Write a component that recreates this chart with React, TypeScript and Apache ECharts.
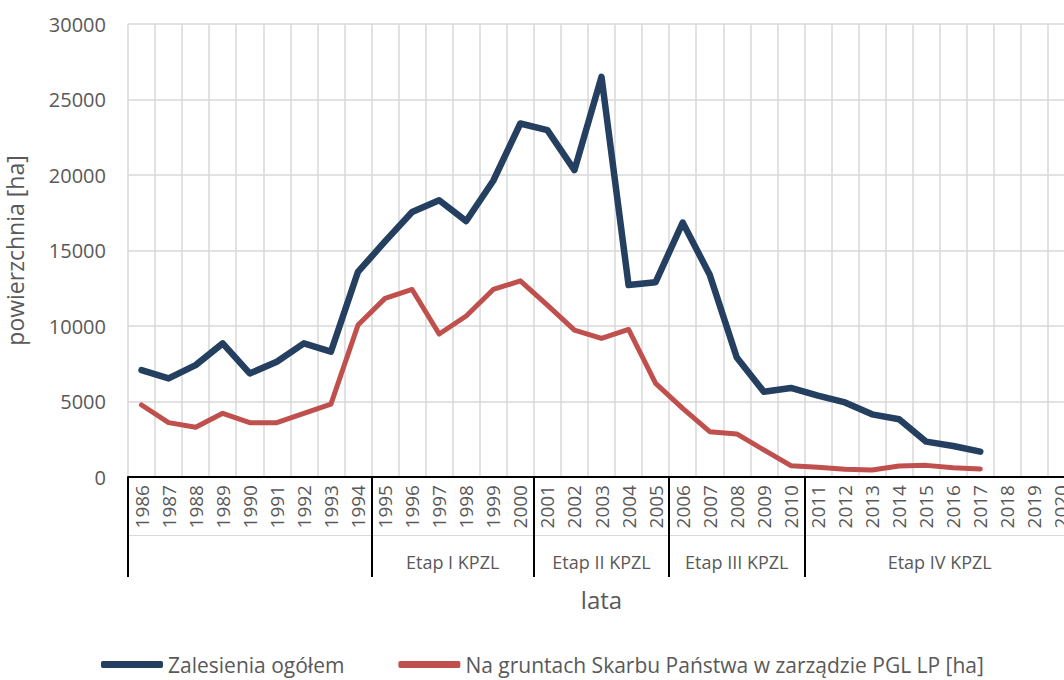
import React, { useEffect, useRef } from "react";
import * as echarts from "echarts";

const years = [
  "1986", "1987", "1988", "1989", "1990", "1991", "1992", "1993", "1994",
  "1995", "1996", "1997", "1998", "1999", "2000",
  "2001", "2002", "2003", "2004", "2005",
  "2006", "2007", "2008", "2009", "2010",
  "2011", "2012", "2013", "2014", "2015", "2016", "2017", "2018", "2019", "2020",
];

const zalesieniaOgolem = [
  7080, 6530, 7410, 8850, 6860, 7630, 8850, 8300, 13590,
  15600, 17550, 18330, 16950, 19620, 23410,
  22970, 20320, 26500, 12710, 12900,
  16850, 13400, 7920, 5650, 5900,
  5390, 4940, 4150, 3820, 2340, 2050, 1680, null, null, null,
];

const skarbPanstwa = [
  4770, 3600, 3290, 4220, 3600, 3600, 4220, 4830, 10060,
  11830, 12420, 9470, 10660, 12420, 12990,
  11390, 9730, 9180, 9770, 6200,
  4550, 3000, 2850, 1790, 750,
  640, 510, 460, 730, 770, 620, 530, null, null, null,
];

// group boundaries in category units and group labels
const groupBoundaries = [0, 9, 15, 20, 25, 35];
const groupNames = ["", "Etap I KPZL", "Etap II KPZL", "Etap III KPZL", "Etap IV KPZL"];

const seriesNames = ["Zalesienia ogółem", "Na gruntach Skarbu Państwa w zarządzie PGL LP [ha]"];

const FONT = "'Open Sans', sans-serif";
const TEXT = "#595959";

export default function App() {
  const ref = useRef<HTMLDivElement>(null);
  useEffect(() => {
    if (!ref.current) return;
    const chart = echarts.init(ref.current, undefined, { renderer: "svg" });
    const centers: number[] = [];
    const labels: Record<string, string> = {};
    for (let i = 0; i < groupNames.length; i++) {
      const c = (groupBoundaries[i] + groupBoundaries[i + 1]) / 2;
      centers.push(c);
      labels[String(c)] = groupNames[i];
    }
    chart.setOption({
      animation: false,
      textStyle: { fontFamily: FONT },
      grid: {
        left: 128,
        top: 24,
        right: -11,
        bottom: 203,
        containLabel: false,
        outerBoundsMode: "none",
      },
      xAxis: [
        {
          type: "category",
          data: years,
          boundaryGap: true,
          axisLine: { show: true, lineStyle: { color: "#000", width: 2 } },
          axisTick: { show: false },
          splitLine: { show: true, interval: 0, lineStyle: { color: "#d9d9d9", width: 1.5 } },
          axisLabel: {
            rotate: 90,
            interval: 0,
            margin: 8,
            fontSize: 19,
            color: TEXT,
            fontFamily: FONT,
          },
          name: "lata",
          nameLocation: "middle",
          nameGap: 110,
          nameTextStyle: { fontSize: 24, color: TEXT, fontFamily: FONT },
          z: 5,
        },
        {
          type: "value",
          min: 0,
          max: 35,
          position: "bottom",
          axisLine: { show: false },
          splitLine: { show: false },
          axisTick: {
            show: true,
            length: 100,
            customValues: groupBoundaries,
            lineStyle: { color: "#000", width: 2 },
          },
          axisLabel: {
            show: true,
            customValues: centers,
            margin: 76,
            fontSize: 18,
            color: TEXT,
            fontFamily: FONT,
            formatter: (v: number) => labels[String(v)] ?? "",
          },
        },
        {
          type: "category",
          data: years,
          position: "bottom",
          offset: 58,
          axisLine: { show: true, lineStyle: { color: "#d9d9d9", width: 1 } },
          axisTick: { show: false },
          axisLabel: { show: false },
          splitLine: { show: false },
        },
      ],
      yAxis: {
        type: "value",
        min: 0,
        max: 30000,
        interval: 5000,
        axisLine: { show: false },
        axisTick: { show: false },
        splitLine: { show: true, lineStyle: { color: "#d9d9d9", width: 1.5 } },
        axisLabel: {
          fontSize: 20,
          color: TEXT,
          margin: 22,
          fontFamily: FONT,
          formatter: (v: number) => String(v),
        },
        name: "powierzchnia [ha]",
        nameLocation: "middle",
        nameGap: 102,
        nameTextStyle: { fontSize: 23, color: TEXT, fontFamily: FONT },
      },
      legend: {
        bottom: 0,
        left: 96,
        icon: "roundRect",
        itemWidth: 62,
        itemHeight: 7,
        itemGap: 54,
        textStyle: { fontSize: 21, color: TEXT, fontFamily: FONT },
        data: seriesNames,
      },
      series: [
        {
          name: seriesNames[0],
          type: "line",
          xAxisIndex: 0,
          data: zalesieniaOgolem,
          showSymbol: false,
          symbol: "none",
          itemStyle: { color: "#243f60" },
          lineStyle: { color: "#243f60", width: 6.5, cap: "round", join: "round" },
          z: 10,
        },
        {
          name: seriesNames[1],
          type: "line",
          xAxisIndex: 0,
          data: skarbPanstwa,
          showSymbol: false,
          symbol: "none",
          itemStyle: { color: "#c0504d" },
          lineStyle: { color: "#c0504d", width: 5, cap: "round", join: "round" },
          z: 9,
        },
      ],
    });
    return () => chart.dispose();
  }, []);
  return (
    <div
      ref={ref}
      style={{ position: "fixed", left: 0, top: 0, width: 1064, height: 680, background: "#fff" }}
    />
  );
}
